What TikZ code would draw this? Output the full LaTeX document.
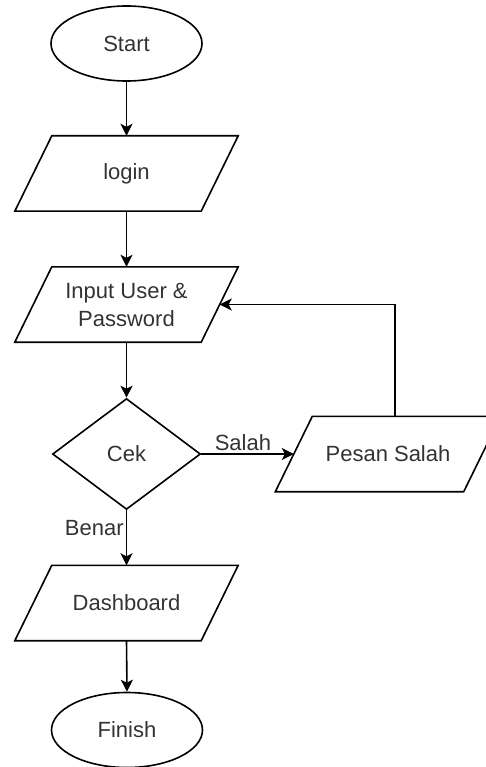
\documentclass[tikz,border=0pt]{standalone}
\usepackage{fontspec}
\setmainfont{Liberation Sans}
\usetikzlibrary{shapes.geometric,arrows.meta}
\newcommand\drawpara[1]{\draw[paraline] ([xshift=-18.5pt]#1.south west) -- ([xshift=18.5pt]#1.north west) -- ([xshift=18.5pt]#1.north east) -- ([xshift=-18.5pt]#1.south east) -- cycle;}
\begin{document}
\begin{tikzpicture}[x=1pt,y=-1pt,
  every node/.style={font=\fontsize{22}{28}\selectfont, text=black!80},
  base/.style={draw=black, line width=1.6pt, inner sep=0pt},
  paraline/.style={draw=black, line width=1.6pt, line join=miter},
  term/.style={base, ellipse, minimum width=151pt, minimum height=75pt},
  io/.style={inner sep=0pt, rectangle, minimum width=186pt, minimum height=75pt, align=center},
  dec/.style={base, diamond, minimum width=148pt, minimum height=111pt},
  arr/.style={line width=1.6pt, -{Stealth[length=12pt,width=12pt,inset=3pt]}},
  lbl/.style={inner sep=2pt}
]
\useasboundingbox (0,0) rectangle (486,767);
\clip (0,0) rectangle (486,767);

\node[term] (start) at (126.5,43.5) {Start};
\node[io] (login) at (126.5,173.5) {login};
\node[io] (inp) at (126.5,304.5) {Input User \&\\Password};
\node[dec] (cek) at (126.5,454) {Cek};
\node[io, minimum width=188pt] (pesan) at (388,454) {Pesan Salah};
\node[io] (dash) at (126.5,603) {Dashboard};
\node[term] (fin) at (127,730) {Finish};

\drawpara{login}
\drawpara{inp}
\drawpara{pesan}
\drawpara{dash}

\draw[arr] (start.south) -- (login.north);
\draw[arr] (login.south) -- (inp.north);
\draw[arr] (inp.south) -- (cek.north);
\draw[arr] (cek.east) -- node[lbl, above, pos=0.45] {Salah} (pesan.west);
\draw[arr] ([xshift=7pt]pesan.north) |- (inp.east);
\draw[arr] (cek.south) -- node[lbl, left, pos=0.32] {Benar} (dash.north);
\draw[arr] (dash.south) -- (fin.north);
\end{tikzpicture}
\end{document}
